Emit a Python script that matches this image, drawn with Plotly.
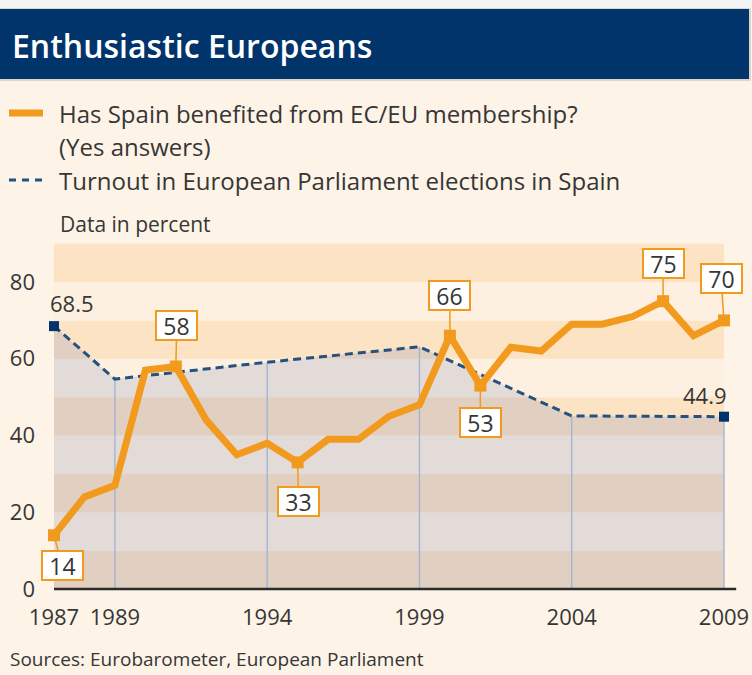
import plotly.graph_objects as go

# ---------------- data ----------------
years = list(range(1987, 2010))
benefit = [14, 24, 27, 57, 58, 44, 35, 38, 33, 39, 39, 45, 48, 66, 53, 63, 62, 69, 69, 71, 75, 66, 70]
benefit_labels = [1987, 1991, 1995, 2000, 2001, 2007, 2009]

election_years = [1987, 1989, 1994, 1999, 2004, 2009]
turnout = [68.5, 54.7, 59.1, 63.1, 45.1, 44.9]

x_ticks = [1987, 1989, 1994, 1999, 2004, 2009]
y_ticks = [0, 20, 40, 60, 80]

title = "Enthusiastic Europeans"
legend1 = "Has Spain benefited from EC/EU membership?"
legend1b = "(Yes answers)"
legend2 = "Turnout in European Parliament elections in Spain"
unit_note = "Data in percent"
source = "Sources: Eurobarometer, European Parliament"

# ---------------- style ----------------
W, H = 752, 675
L, R, T, B = 40, 12, 235, 80
PW, PH = W - L - R, H - T - B
BG = "#fdf3e7"
NAVY = "#00346a"
ORANGE = "#f29a1d"
DASH = "#24517f"
TXT = "#363636"
FONT = "Open Sans"

def px(p):
    return (p - L) / PW

def py(p):
    return (H - B - p) / PH

fig = go.Figure()

# stripes (bands of 10)
shapes = []
for i in range(9):
    shapes.append(dict(type="rect", xref="x", yref="y", x0=1987, x1=2009,
                       y0=i * 10, y1=i * 10 + 10, line_width=0, layer="below",
                       fillcolor="#fbe3c4" if i % 2 == 0 else "#fdf0e0"))

# area under turnout line
fig.add_trace(go.Scatter(x=election_years, y=turnout, mode="lines", line=dict(width=0),
                         fill="tozeroy", fillcolor="rgba(115,125,180,0.19)",
                         hoverinfo="skip", showlegend=False))

# vertical guide lines at election years
for yr, v in zip(election_years[1:], turnout[1:]):
    fig.add_trace(go.Scatter(x=[yr, yr], y=[0, v], mode="lines",
                             line=dict(color="#9fb2d4", width=1.3),
                             hoverinfo="skip", showlegend=False))

# turnout dashed line
fig.add_trace(go.Scatter(x=election_years, y=turnout, mode="lines",
                         line=dict(color=DASH, width=3, dash="8px,5px"),
                         showlegend=False))

# benefit line
fig.add_trace(go.Scatter(x=years, y=benefit, mode="lines",
                         line=dict(color=ORANGE, width=7),
                         showlegend=False))

# orange markers at labelled points
lab_y = [benefit[years.index(y)] for y in benefit_labels]
fig.add_trace(go.Scatter(x=benefit_labels, y=lab_y, mode="markers",
                         marker=dict(symbol="square", size=12, color=ORANGE),
                         cliponaxis=False, showlegend=False))

# navy markers first/last turnout
fig.add_trace(go.Scatter(x=[election_years[0], election_years[-1]], y=[turnout[0], turnout[-1]],
                         mode="markers", marker=dict(symbol="square", size=10, color=NAVY),
                         cliponaxis=False, showlegend=False))

# axis baseline
shapes.append(dict(type="line", xref="x", yref="y", x0=1987, x1=2009.4, y0=0, y1=0,
                   line=dict(color="#2a2a2a", width=2.5)))

# title bar with shadow
shapes.append(dict(type="rect", xref="paper", yref="paper", x0=px(0), x1=px(751),
                   y0=py(81), y1=py(8), line_width=0, fillcolor="rgba(0,0,0,0.12)"))
shapes.append(dict(type="rect", xref="paper", yref="paper", x0=px(-2), x1=px(752),
                   y0=py(0), y1=py(8), line_width=0, fillcolor="#f3f3f3"))
shapes.append(dict(type="rect", xref="paper", yref="paper", x0=px(-2), x1=px(749),
                   y0=py(79), y1=py(9), line_width=0, fillcolor=NAVY))

# legend symbols
shapes.append(dict(type="line", xref="paper", yref="paper", x0=px(9), x1=px(43),
                   y0=py(113), y1=py(113), line=dict(color=ORANGE, width=7)))
shapes.append(dict(type="line", xref="paper", yref="paper", x0=px(9), x1=px(44),
                   y0=py(180), y1=py(180), line=dict(color=DASH, width=3, dash="7px,6px")))

annotations = []
annotations.append(dict(text=title, xref="paper", yref="paper", x=px(10), y=py(45),
                        xanchor="left", yanchor="middle", showarrow=False,
                        font=dict(family=FONT, size=32, color="white", weight=600)))
for txt, yy in [(legend1, 113), (legend1b, 146), (legend2, 180)]:
    annotations.append(dict(text=txt, xref="paper", yref="paper", x=px(57), y=py(yy),
                            xanchor="left", yanchor="middle", showarrow=False,
                            font=dict(family=FONT, size=24, color=TXT)))
annotations.append(dict(text=unit_note, xref="paper", yref="paper", x=px(58), y=py(224),
                        xanchor="left", yanchor="middle", showarrow=False,
                        font=dict(family=FONT, size=21, color=TXT)))
annotations.append(dict(text=source, xref="paper", yref="paper", x=px(8), y=py(659),
                        xanchor="left", yanchor="middle", showarrow=False,
                        font=dict(family=FONT, size=19, color=TXT)))

# boxed value labels (pixel offsets of box centre from point)
offsets = {1987: (8, 30), 1991: (1, -41), 1995: (1, 39), 2000: (0, -40),
           2001: (0, 37), 2007: (0, -38), 2009: (-3, -42)}
for yr, v in zip(benefit_labels, lab_y):
    ax, ay = offsets[yr]
    annotations.append(dict(x=yr, y=v, xref="x", yref="y", text=str(v),
                            showarrow=True, arrowhead=0, arrowwidth=1.5, arrowcolor=ORANGE,
                            ax=ax, ay=ay, standoff=0,
                            bgcolor="white", bordercolor=ORANGE, borderwidth=2,
                            width=39, height=27, borderpad=0,
                            font=dict(family=FONT, size=23, color=TXT)))

# turnout end labels
annotations.append(dict(x=election_years[0], y=turnout[0], xref="x", yref="y",
                        text=f"{turnout[0]:.1f}", showarrow=False, xshift=18, yshift=23,
                        font=dict(family=FONT, size=22, color=TXT)))
annotations.append(dict(x=election_years[-1], y=turnout[-1], xref="x", yref="y",
                        text=f"{turnout[-1]:.1f}", showarrow=False, xshift=-19, yshift=22,
                        font=dict(family=FONT, size=22, color=TXT)))

fig.update_layout(
    width=W, height=H,
    margin=dict(l=L, r=R, t=T, b=B, pad=0, autoexpand=False),
    paper_bgcolor=BG, plot_bgcolor=BG,
    shapes=shapes, annotations=annotations,
    showlegend=False,
    font=dict(family=FONT, color=TXT),
    xaxis=dict(range=[1987 - 14 / 30.4545, 2009 + 16 / 30.4545], showgrid=False, zeroline=False,
               showline=False, tickvals=x_ticks, ticktext=[str(t) for t in x_ticks],
               ticks="", ticklabelstandoff=7, tickfont=dict(family=FONT, size=22, color=TXT),
               automargin=False, fixedrange=True),
    yaxis=dict(range=[-6 / 3.8375, (H - B - 6 - T) / 3.8375], showgrid=False, zeroline=False,
               showline=False, tickvals=y_ticks, ticktext=[str(t) for t in y_ticks],
               ticks="", ticklabelstandoff=4, tickfont=dict(family=FONT, size=22, color=TXT),
               automargin=False, fixedrange=True),
)

fig.write_html("out.html", config={"displayModeBar": False},
               post_script="document.body.style.margin='0';document.body.style.overflow='hidden';")
